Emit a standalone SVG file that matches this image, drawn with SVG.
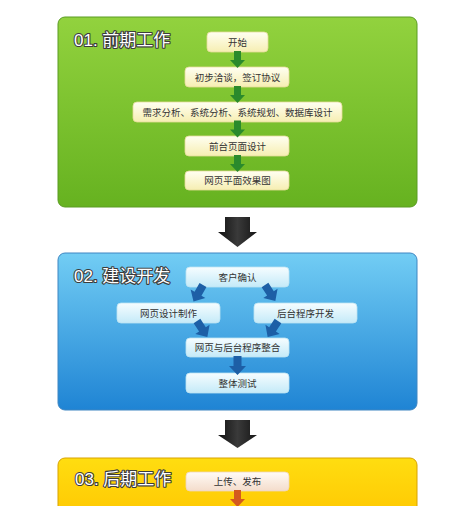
<svg xmlns="http://www.w3.org/2000/svg" width="475" height="506" viewBox="0 0 475 506">
<defs>
<linearGradient id="gGreen" x1="0" y1="0" x2="0" y2="1"><stop offset="0" stop-color="#92d23e"/><stop offset="1" stop-color="#66b220"/></linearGradient>
<linearGradient id="gBlue" x1="0" y1="0" x2="0" y2="1"><stop offset="0" stop-color="#72cdf4"/><stop offset="1" stop-color="#1f84d4"/></linearGradient>
<linearGradient id="gYellow" x1="0" y1="0" x2="0" y2="1"><stop offset="0" stop-color="#ffdd10"/><stop offset="1" stop-color="#ffc400"/></linearGradient>
<linearGradient id="nGreen" x1="0" y1="0" x2="0" y2="1"><stop offset="0" stop-color="#fffff2"/><stop offset="1" stop-color="#f6eeb2"/></linearGradient>
<linearGradient id="nBlue" x1="0" y1="0" x2="0" y2="1"><stop offset="0" stop-color="#f6fdff"/><stop offset="1" stop-color="#c4eaf8"/></linearGradient>
<linearGradient id="nYellow" x1="0" y1="0" x2="0" y2="1"><stop offset="0" stop-color="#fffbf6"/><stop offset="1" stop-color="#f4dccb"/></linearGradient>
<linearGradient id="gBlack" x1="0" y1="0" x2="1" y2="0"><stop offset="0" stop-color="#111"/><stop offset="0.5" stop-color="#3a3a3a"/><stop offset="1" stop-color="#151515"/></linearGradient>
<path id="arr" d="M-3.5 0 H3.5 V9 H7.5 L0 17 L-7.5 9 H-3.5 Z"/>
<path id="arrB" d="M-4 0 H4 V10 H8.5 L0 19 L-8.5 10 H-4 Z"/>
</defs>
<style>
.title{font-family:"Liberation Sans","Noto Sans CJK SC",sans-serif;font-size:17px;fill:#fff;stroke:#3c3c3c;stroke-width:2.2px;paint-order:stroke fill;stroke-linejoin:round}
.lbl{font-family:"Liberation Sans","Noto Sans CJK SC",sans-serif;font-size:9.5px;fill:#333;text-anchor:middle}
.ng{fill:url(#nGreen);stroke:#e6dc9a;stroke-width:0.8}
.nb{fill:url(#nBlue);stroke:#bde3f3;stroke-width:0.8}
.ny{fill:url(#nYellow);stroke:#f0d6b8;stroke-width:0.8}
.ag{fill:#2a8a2c}
.ab{fill:#1d5fa6}
.ao{fill:#d45a1e}
</style>
<rect width="475" height="506" fill="#fff"/>
<g id="panel1">
<rect x="58" y="17" width="359" height="190" rx="7" fill="url(#gGreen)" stroke="#5a9c22" stroke-width="1"/>
<text class="title" x="74" y="46">01. 前期工作</text>
</g>
<g id="panel2">
<rect x="58" y="253" width="359" height="157" rx="7" fill="url(#gBlue)" stroke="#3f86c2" stroke-width="1"/>
<text class="title" x="74" y="282">02. 建设开发</text>
</g>
<g id="panel3">
<rect x="58" y="458" width="359" height="70" rx="7" fill="url(#gYellow)" stroke="#d8a300" stroke-width="1"/>
<text class="title" x="75" y="485">03. 后期工作</text>
</g>
<g id="n-start"><rect class="ng" x="207" y="32" width="61" height="20" rx="4"/><text class="lbl" x="237.5" y="45.5">开始</text></g>
<g id="n-talk"><rect class="ng" x="185" y="67" width="104" height="20" rx="4"/><text class="lbl" x="237.5" y="80.5">初步洽谈，签订协议</text></g>
<g id="n-analysis"><rect class="ng" x="133" y="102" width="209" height="20" rx="4"/><text class="lbl" x="237.5" y="115.5">需求分析、系统分析、系统规划、数据库设计</text></g>
<g id="n-front"><rect class="ng" x="185" y="136" width="104" height="20" rx="4"/><text class="lbl" x="237.5" y="149.5">前台页面设计</text></g>
<g id="n-mock"><rect class="ng" x="185" y="171" width="104" height="19" rx="4"/><text class="lbl" x="237.5" y="184">网页平面效果图</text></g>
<g id="n-confirm"><rect class="nb" x="186" y="267" width="103" height="20" rx="4"/><text class="lbl" x="237.5" y="280.5">客户确认</text></g>
<g id="n-web"><rect class="nb" x="117" y="303" width="103" height="20" rx="4"/><text class="lbl" x="168.5" y="316.5">网页设计制作</text></g>
<g id="n-back"><rect class="nb" x="254" y="303" width="103" height="20" rx="4"/><text class="lbl" x="305.5" y="316.5">后台程序开发</text></g>
<g id="n-integrate"><rect class="nb" x="186" y="338" width="103" height="19" rx="4"/><text class="lbl" x="237.5" y="351">网页与后台程序整合</text></g>
<g id="n-test"><rect class="nb" x="186" y="373" width="103" height="20" rx="4"/><text class="lbl" x="237.5" y="386.5">整体测试</text></g>
<g id="n-upload"><rect class="ny" x="186" y="472" width="103" height="19" rx="4"/><text class="lbl" x="237.5" y="485">上传、发布</text></g>
<g id="connectors">
<use href="#arr" class="ag" x="237.5" y="51"/>
<use href="#arr" class="ag" x="237.5" y="86"/>
<use href="#arr" class="ag" x="237.5" y="120.5"/>
<use href="#arr" class="ag" x="237.5" y="155"/>
<path d="M225 217 H250 V232 H257 L237.5 247 L218 232 H225 Z" fill="url(#gBlack)"/>
<path d="M225 420 H250 V435 H257 L237.5 448 L218 435 H225 Z" fill="url(#gBlack)"/>
<use href="#arrB" class="ab" transform="translate(203 285) rotate(30)"/>
<use href="#arrB" class="ab" transform="translate(265 285) rotate(-33)"/>
<use href="#arrB" class="ab" transform="translate(197 321) rotate(-33)"/>
<use href="#arrB" class="ab" transform="translate(278 321) rotate(33)"/>
<use href="#arrB" class="ab" transform="translate(237.5 356)"/>
<use href="#arr" class="ao" x="237.5" y="490"/>
</g>
</svg>
